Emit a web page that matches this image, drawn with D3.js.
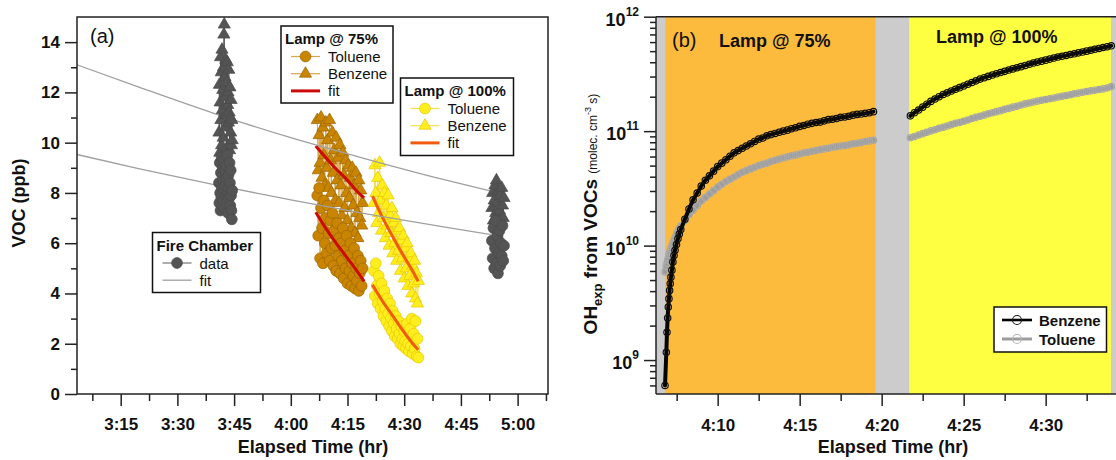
<!DOCTYPE html>
<html><head><meta charset="utf-8">
<script src="https://cdn.jsdelivr.net/npm/d3@7"></script>
<style>body{margin:0;background:#fff;} text{font-family:"Liberation Sans",Arial,sans-serif;fill:#111;}</style>
</head><body><svg id="chart" width="1116" height="460"></svg>
<script>
// ---------------- DATA : panel (a) ----------------
// time in minutes of elapsed time (e.g. 245 = 4:05)
const fire1Time = [221.0,221.1,221.2,221.3,221.4,221.5,221.6,221.7,221.8,221.9,222.0,222.1,222.2,222.3,222.4,222.5,222.6,222.7,222.8,222.9,223.0,223.1,223.2,223.3,223.4,223.5,223.6,223.7,223.8,223.9,224.0,224.1,224.2,224.3,224.4,224.5];
const fire1Benzene = [10.4,12.3,9.6,11.6,13.4,10.9,12.8,9.9,13.7,11.3,12.1,10.2,13.0,14.3,14.7,11.8,12.6,10.6,13.3,11.1,12.4,9.8,13.2,11.5,12.0,10.8,12.9,11.2,9.7,12.2,11.0,10.4,11.7,9.9,10.9,10.1];
const fire1Toluene = [8.4,7.6,9.2,8.0,7.3,8.8,7.8,9.4,8.2,7.5,9.0,8.5,7.7,9.3,8.1,7.4,8.9,8.3,7.9,9.1,8.6,7.6,9.5,8.0,7.2,8.7,8.2,7.8,9.2,8.4,7.5,8.9,7.9,7.3,6.95,8.1];
const fire2Time = [293.2,293.4,293.6,293.8,294.0,294.2,294.4,294.6,294.8,295.0,295.2,295.4,295.6,295.8,296.0,296.2,296.4];
const fire2Benzene = [7.4,8.0,6.9,7.7,8.3,7.2,8.5,7.6,6.8,8.1,7.3,7.9,6.9,8.2,7.5,7.0,7.8];
const fire2Toluene = [6.1,5.4,6.6,5.0,5.8,6.9,5.2,6.3,4.8,5.6,6.5,5.1,6.0,5.5,6.7,5.3,5.9];
const fireFitTime = [183.4,200,220,240,260,280,293];
const fireFitBenzene = [13.1,12.2,11.15,10.2,9.35,8.55,8.07];
const fireFitToluene = [9.53,8.96,8.32,7.72,7.17,6.66,6.34];

const lamp75Time = [247.0,247.25,247.5,247.75,248.0,248.25,248.5,248.75,249.0,249.25,249.5,249.75,250.0,250.25,250.5,250.75,251.0,251.25,251.5,251.75,252.0,252.25,252.5,252.75,253.0,253.25,253.5,253.75,254.0,254.25,254.5,254.75,255.0,255.25,255.5,255.75,256.0,256.25,256.5,256.75,257.0,257.25,257.5,257.75,258.0,258.25,258.5,258.75,259.0];
const lamp75Benzene = [10.9,8.9,10.3,9.2,11.0,8.6,10.6,9.5,8.3,10.8,9.0,10.1,8.2,10.9,9.3,8.0,10.4,8.8,9.7,7.7,10.2,8.5,9.4,7.6,9.9,8.3,7.1,9.6,8.7,7.4,9.3,8.0,6.9,9.1,7.8,8.6,6.6,9.0,7.5,8.3,6.4,8.8,7.2,6.2,8.5,7.0,8.1,6.7,7.6];
const lamp75Toluene = [7.9,6.3,8.2,5.4,7.4,6.6,5.2,7.7,6.0,7.0,5.6,7.5,6.4,5.3,6.9,5.8,7.2,5.1,6.5,5.9,4.9,6.8,5.5,6.2,4.8,6.0,5.3,6.6,4.6,5.7,5.0,6.3,4.4,5.5,4.9,6.0,4.3,5.2,4.7,5.8,4.2,5.0,4.5,5.5,4.1,4.8,5.3,4.3,5.0];
const lamp75FitTime = [246.6,249,252,255,257,259.4];
const lamp75FitBenzene = [9.87,9.45,8.95,8.5,8.15,7.8];
const lamp75FitToluene = [7.23,6.65,6.0,5.4,5.0,4.48];

const lamp100Time = [262.0,262.25,262.5,262.75,263.0,263.25,263.5,263.75,264.0,264.25,264.5,264.75,265.0,265.25,265.5,265.75,266.0,266.25,266.5,266.75,267.0,267.25,267.5,267.75,268.0,268.25,268.5,268.75,269.0,269.25,269.5,269.75,270.0,270.25,270.5,270.75,271.0,271.25,271.5,271.75,272.0,272.25,272.5,272.75,273.0,273.25,273.5,273.75];
const lamp100Benzene = [7.6,9.1,8.0,6.8,8.6,7.2,9.2,7.7,6.5,8.3,7.0,8.0,6.2,7.5,6.7,7.9,5.9,7.1,6.4,7.4,5.6,6.8,6.0,7.0,5.3,6.5,5.7,6.6,4.9,6.1,5.4,6.3,4.6,5.8,5.0,6.0,4.3,5.4,4.7,5.6,4.0,5.1,4.4,5.3,3.8,4.8,3.6,4.5];
const lamp100Toluene = [4.9,3.9,5.2,4.3,3.6,4.7,4.0,3.4,4.4,3.7,3.1,4.1,3.4,2.9,3.8,3.2,2.7,3.6,3.0,2.5,3.3,2.8,2.3,3.1,2.6,2.2,2.9,2.4,2.0,2.7,2.2,1.9,2.5,2.1,1.8,2.8,2.0,1.7,2.6,1.9,3.0,1.6,2.4,1.8,2.9,1.5,2.2,1.45];
const lamp100FitTime = [261.6,264,267,270,272,273.7];
const lamp100FitBenzene = [7.87,7.1,6.25,5.45,4.95,4.48];
const lamp100FitToluene = [4.35,3.75,3.1,2.45,2.05,1.76];

const xTicksA = [195,210,225,240,255,270,285,300];
const xTickLabelsA = ["3:15","3:30","3:45","4:00","4:15","4:30","4:45","5:00"];
const xMinorA = [187.5,202.5,217.5,232.5,247.5,262.5,277.5,292.5,307.5];
const yTicksA = [0,2,4,6,8,10,12,14];
const yTickLabelsA = ["0","2","4","6","8","10","12","14"];
const yMinorA = [1,3,5,7,9,11,13];

// ---------------- DATA : panel (b) ----------------
const ohTime75 = [246.79,246.87,246.91,246.95,246.99,247.03,247.07,247.11,247.15,247.21,247.27,247.34,247.40,247.49,247.58,247.66,247.75,248.00,248.25,248.50,248.75,249.00,249.25,249.50,249.75,250.00,250.25,250.50,250.75,251.00,251.25,251.50,251.75,252.00,252.25,252.50,252.75,253.00,253.25,253.50,253.75,254.00,254.25,254.50,254.75,255.00,255.25,255.50,255.75,256.00,256.25,256.50,256.75,257.00,257.25,257.50,257.75,258.00,258.25,258.50,258.75,259.00,259.25,259.50];
const ohBenzene75 = [6.0e8,1.17e9,1.75e9,2.33e9,2.9e9,3.44e9,4.06e9,4.65e9,5.3e9,6.1e9,7.2e9,8.2e9,9.1e9,1.02e10,1.15e10,1.26e10,
  1.38e10,1.70e10,2.09e10,2.51e10,2.88e10,3.31e10,3.72e10,4.07e10,4.47e10,4.90e10,5.25e10,5.62e10,6.03e10,6.46e10,6.76e10,7.08e10,7.41e10,7.76e10,8.13e10,8.51e10,8.71e10,9.12e10,9.33e10,9.55e10,9.77e10,1.00e11,1.02e11,1.05e11,1.07e11,1.10e11,1.12e11,1.15e11,1.17e11,1.19e11,1.20e11,1.23e11,1.26e11,1.27e11,1.29e11,1.32e11,1.33e11,1.35e11,1.38e11,1.40e11,1.41e11,1.43e11,1.45e11,1.48e11];
const ohToluene75 = [5.89e9,6.61e9,7.0e9,7.41e9,7.76e9,8.32e9,8.71e9,9.02e9,9.44e9,1.0e10,1.06e10,1.12e10,1.17e10,1.26e10,1.35e10,1.41e10,
  1.48e10,1.66e10,1.86e10,2.04e10,2.24e10,2.45e10,2.63e10,2.82e10,3.02e10,3.24e10,3.43e10,3.63e10,3.80e10,3.98e10,4.17e10,4.37e10,4.52e10,4.68e10,4.84e10,5.01e10,5.13e10,5.25e10,5.43e10,5.56e10,5.69e10,5.82e10,5.96e10,6.10e10,6.17e10,6.31e10,6.46e10,6.53e10,6.68e10,6.76e10,6.92e10,7.00e10,7.08e10,7.24e10,7.33e10,7.41e10,7.50e10,7.59e10,7.76e10,7.85e10,7.94e10,8.13e10,8.22e10,8.32e10];
const ohTime100 = [261.75,262.00,262.25,262.50,262.75,263.00,263.25,263.50,263.75,264.00,264.25,264.50,264.75,265.00,265.25,265.50,265.75,266.00,266.25,266.50,266.75,267.00,267.25,267.50,267.75,268.00,268.25,268.50,268.75,269.00,269.25,269.50,269.75,270.00,270.25,270.50,270.75,271.00,271.25,271.50,271.75,272.00,272.25,272.50,272.75,273.00,273.25,273.50,273.75,274.00];
const ohBenzene100 = [1.36e11,1.45e11,1.53e11,1.62e11,1.72e11,1.82e11,1.91e11,2.00e11,2.09e11,2.16e11,2.24e11,2.32e11,2.40e11,2.48e11,2.57e11,2.66e11,2.75e11,2.85e11,2.93e11,3.01e11,3.09e11,3.17e11,3.25e11,3.33e11,3.42e11,3.50e11,3.58e11,3.66e11,3.75e11,3.84e11,3.94e11,4.01e11,4.09e11,4.17e11,4.26e11,4.35e11,4.44e11,4.51e11,4.58e11,4.67e11,4.74e11,4.83e11,4.91e11,5.00e11,5.09e11,5.19e11,5.28e11,5.38e11,5.47e11,5.57e11];
const ohToluene100 = [8.75e10,8.99e10,9.25e10,9.51e10,9.77e10,1.005e11,1.03e11,1.06e11,1.08e11,1.11e11,1.14e11,1.17e11,1.19e11,1.22e11,1.25e11,1.29e11,1.32e11,1.35e11,1.38e11,1.42e11,1.45e11,1.48e11,1.51e11,1.55e11,1.58e11,1.62e11,1.65e11,1.69e11,1.73e11,1.76e11,1.80e11,1.83e11,1.86e11,1.89e11,1.92e11,1.95e11,1.99e11,2.02e11,2.05e11,2.08e11,2.12e11,2.15e11,2.19e11,2.22e11,2.25e11,2.28e11,2.31e11,2.34e11,2.38e11,2.45e11];
const lampPhaseStart = [246.80, 261.68];
const lampPhaseEnd = [259.63, 273.98];
const lampPhaseLabels = ["Lamp @ 75%", "Lamp @ 100%"];

const xTicksB = [250,255,260,265,270];
const xTickLabelsB = ["4:10","4:15","4:20","4:25","4:30"];
const xMinorB = [247.5,252.5,257.5,262.5,267.5,272.5];
const yTicksB = [1e9,1e10,1e11,1e12];
const yTickExpB = ["9","10","11","12"];

// ---------------- DRAWING ----------------
const svg = d3.select("#chart");
svg.append("rect").attr("width",1116).attr("height",460).attr("fill","#fff");
const zip = (t, v) => t.map((d,i)=>[d, v[i]]);

// ===== Panel A =====
const xA = d3.scaleLinear().domain([183.44, 308.04]).range([77, 548]);
const yA = d3.scaleLinear().domain([0, 15]).range([394, 17]);
const gA = svg.append("g");
svg.append("clipPath").attr("id","clipA").append("rect")
  .attr("x",xA.range()[0]).attr("y",yA.range()[1]).attr("width",xA.range()[1]-xA.range()[0]).attr("height",yA.range()[0]-yA.range()[1]);
const plotA = gA.append("g").attr("clip-path","url(#clipA)");
const lineA = d3.line().x(d=>xA(d[0])).y(d=>yA(d[1]));
const lineAcurve = d3.line().x(d=>xA(d[0])).y(d=>yA(d[1])).curve(d3.curveMonotoneX);
const triPath = d3.symbol().type(d3.symbolTriangle).size(64)();
const cirR = 5.4;

function scatter(g, data, shape, fill, stroke, lineColor) {
  g.append("path").datum(data).attr("d", lineA).attr("fill","none").attr("stroke",lineColor).attr("stroke-width",1);
  const pts = g.append("g");
  data.forEach(d => {
    if (shape === "tri") {
      pts.append("path").attr("d", triPath).attr("transform",`translate(${xA(d[0])},${yA(d[1])})`)
        .attr("fill",fill).attr("stroke",stroke).attr("stroke-width",0.7);
    } else {
      pts.append("circle").attr("cx",xA(d[0])).attr("cy",yA(d[1])).attr("r",cirR)
        .attr("fill",fill).attr("stroke",stroke).attr("stroke-width",0.7);
    }
  });
}
const C75 = {fill:"#c98500", stroke:"#9b6500", line:"#d9a54a"};
const C100 = {fill:"#ffee1e", stroke:"#e5c700", line:"#f7e04a"};
const CF = {fill:"#545454", stroke:"#4a4a4a", line:"#555"};

scatter(plotA, zip(lamp75Time, lamp75Benzene), "tri", C75.fill, C75.stroke, C75.line);
scatter(plotA, zip(lamp75Time, lamp75Toluene), "cir", C75.fill, C75.stroke, C75.line);
scatter(plotA, zip(lamp100Time, lamp100Benzene), "tri", C100.fill, C100.stroke, C100.line);
scatter(plotA, zip(lamp100Time, lamp100Toluene), "cir", C100.fill, C100.stroke, C100.line);
[[lamp75FitTime,lamp75FitBenzene,"#cc0a0a"],[lamp75FitTime,lamp75FitToluene,"#cc0a0a"],
 [lamp100FitTime,lamp100FitBenzene,"#f25a10"],[lamp100FitTime,lamp100FitToluene,"#f25a10"]].forEach(([t,v,c])=>{
  plotA.append("path").datum(zip(t,v)).attr("d",lineAcurve).attr("fill","none").attr("stroke",c).attr("stroke-width",3);
});
[fireFitBenzene, fireFitToluene].forEach(v=>{
  plotA.append("path").datum(zip(fireFitTime,v)).attr("d",lineAcurve).attr("fill","none").attr("stroke","#a0a0a0").attr("stroke-width",1.3);
});
scatter(plotA, zip(fire1Time, fire1Benzene), "tri", CF.fill, CF.stroke, CF.line);
scatter(plotA, zip(fire1Time, fire1Toluene), "cir", CF.fill, CF.stroke, CF.line);
scatter(plotA, zip(fire2Time, fire2Benzene), "tri", CF.fill, CF.stroke, CF.line);
scatter(plotA, zip(fire2Time, fire2Toluene), "cir", CF.fill, CF.stroke, CF.line);

// frame + axes A
gA.append("rect").attr("x",xA.range()[0]).attr("y",yA.range()[1]).attr("width",xA.range()[1]-xA.range()[0])
  .attr("height",yA.range()[0]-yA.range()[1]).attr("fill","none").attr("stroke","#222").attr("stroke-width",1.5);

function styleAxis(sel, fs) {
  sel.select(".domain").remove();
  sel.selectAll(".tick line").attr("stroke","#222").attr("stroke-width",1.5);
  sel.selectAll(".tick text").attr("font-size",fs).attr("font-weight","bold").attr("fill","#111")
    .style("font-family",'"Liberation Sans",Arial,sans-serif');
}
gA.append("g").attr("transform",`translate(0,${yA.range()[0]})`)
  .call(d3.axisBottom(xA).tickValues(xTicksA).tickSize(12).tickPadding(12).tickFormat((d,i)=>xTickLabelsA[i]))
  .call(s=>styleAxis(s,17));
gA.append("g").attr("transform",`translate(0,${yA.range()[0]})`)
  .call(d3.axisBottom(xA).tickValues(xMinorA).tickSize(7).tickFormat(""))
  .call(s=>styleAxis(s,17));
gA.append("g").attr("transform",`translate(${xA.range()[0]},0)`)
  .call(d3.axisLeft(yA).tickValues(yTicksA).tickSize(12).tickPadding(5).tickFormat((d,i)=>yTickLabelsA[i]))
  .call(s=>styleAxis(s,17));
gA.append("g").attr("transform",`translate(${xA.range()[0]},0)`)
  .call(d3.axisLeft(yA).tickValues(yMinorA).tickSize(6).tickFormat(""))
  .call(s=>styleAxis(s,17));

gA.append("text").attr("transform","translate(25,203) rotate(-90)").attr("text-anchor","middle")
  .attr("font-size",18).attr("font-weight","bold").text("VOC (ppb)");
gA.append("text").attr("x",313).attr("y",453).attr("text-anchor","middle")
  .attr("font-size",18).attr("font-weight","bold").text("Elapsed Time (hr)");
gA.append("text").attr("x",90).attr("y",43).attr("font-size",20).text("(a)");

// legends A
function legendBox(g, x0, y0, w, h, title, items) {
  g.append("rect").attr("x",x0).attr("y",y0).attr("width",w).attr("height",h)
    .attr("fill","#fff").attr("stroke","#111").attr("stroke-width",1.5);
  g.append("text").attr("x",x0+4).attr("y",y0+18).attr("font-size",15).attr("font-weight","bold").text(title);
  items.forEach((it,i)=>{
    const yy = y0+30.5+i*17.2;
    g.append("line").attr("x1",x0+10).attr("x2",x0+39).attr("y1",yy).attr("y2",yy)
      .attr("stroke",it.line).attr("stroke-width",it.lw||1.2);
    const mx = x0+24.5;
    if (it.shape==="tri") g.append("path").attr("d",triPath).attr("transform",`translate(${mx},${yy})`)
      .attr("fill",it.fill).attr("stroke",it.stroke).attr("stroke-width",0.7);
    if (it.shape==="cir") g.append("circle").attr("cx",mx).attr("cy",yy).attr("r",cirR)
      .attr("fill",it.fill).attr("stroke",it.stroke).attr("stroke-width",0.7);
    g.append("text").attr("x",x0+47).attr("y",yy+5.5).attr("font-size",15).text(it.label);
  });
}
legendBox(gA, 281, 26, 112, 77, "Lamp @ 75%", [
  {shape:"cir",fill:C75.fill,stroke:C75.stroke,line:C75.line,label:"Toluene"},
  {shape:"tri",fill:C75.fill,stroke:C75.stroke,line:C75.line,label:"Benzene"},
  {shape:null,line:"#cc0a0a",lw:3,label:"fit"}]);
legendBox(gA, 400.5, 78, 113, 77.5, "Lamp @ 100%", [
  {shape:"cir",fill:C100.fill,stroke:C100.stroke,line:C100.line,label:"Toluene"},
  {shape:"tri",fill:C100.fill,stroke:C100.stroke,line:C100.line,label:"Benzene"},
  {shape:null,line:"#f25a10",lw:3,label:"fit"}]);
legendBox(gA, 152.5, 232.5, 108, 60, "Fire Chamber", [
  {shape:"cir",fill:CF.fill,stroke:CF.stroke,line:"#777",label:"data"},
  {shape:null,line:"#a0a0a0",lw:1.3,label:"fit"}]);

// ===== Panel B =====
const xB = d3.scaleLinear().domain([246.24, 274.35]).range([656, 1117]);
const yB = d3.scaleLog().domain([5.05e8, 1e12]).range([394, 16.7]);
const gB = svg.append("g");
svg.append("clipPath").attr("id","clipB").append("rect")
  .attr("x",xB.range()[0]).attr("y",yB.range()[1]).attr("width",xB.range()[1]-xB.range()[0]).attr("height",yB.range()[0]-yB.range()[1]);
const plotB = gB.append("g").attr("clip-path","url(#clipB)");
plotB.append("rect").attr("x",xB.range()[0]).attr("y",yB.range()[1]).attr("width",xB.range()[1]-xB.range()[0])
  .attr("height",yB.range()[0]-yB.range()[1]).attr("fill","#cccccc");
const phaseColors = ["#fdbb3e","#ffff42"];
lampPhaseStart.forEach((s,i)=>{
  plotB.append("rect").attr("x",xB(s)).attr("y",yB.range()[1]).attr("width",xB(lampPhaseEnd[i])-xB(s))
    .attr("height",yB.range()[0]-yB.range()[1]).attr("fill",phaseColors[i]);
});
const lineB = d3.line().x(d=>xB(d[0])).y(d=>yB(d[1]));
function ohSeries(data, lineColor, circColor, lw) {
  plotB.append("path").datum(data).attr("d",lineB).attr("fill","none").attr("stroke",lineColor)
    .attr("stroke-width",lw).attr("stroke-linecap","round");
  plotB.append("g").selectAll("circle").data(data).join("circle")
    .attr("cx",d=>xB(d[0])).attr("cy",d=>yB(d[1])).attr("r",3.2)
    .attr("fill","none").attr("stroke",circColor).attr("stroke-width",1.2);
}
ohSeries(zip(ohTime75, ohToluene75), "#9c9c9c", "#a8a8a8", 5);
ohSeries(zip(ohTime100, ohToluene100), "#9c9c9c", "#a8a8a8", 5);
ohSeries(zip(ohTime75, ohBenzene75), "#050505", "#111", 4);
ohSeries(zip(ohTime100, ohBenzene100), "#050505", "#111", 4);

// axes B
gB.append("line").attr("x1",xB.range()[0]).attr("x2",xB.range()[1]).attr("y1",yB.range()[1]).attr("y2",yB.range()[1]).attr("stroke","#222").attr("stroke-width",1.5);
gB.append("line").attr("x1",xB.range()[0]).attr("x2",xB.range()[1]).attr("y1",yB.range()[0]).attr("y2",yB.range()[0]).attr("stroke","#222").attr("stroke-width",1.5);
gB.append("line").attr("x1",xB.range()[0]).attr("x2",xB.range()[0]).attr("y1",yB.range()[1]).attr("y2",yB.range()[0]).attr("stroke","#222").attr("stroke-width",1.5);
gB.append("g").attr("transform",`translate(0,${yB.range()[0]})`)
  .call(d3.axisBottom(xB).tickValues(xTicksB).tickSize(12).tickPadding(13).tickFormat((d,i)=>xTickLabelsB[i]))
  .call(s=>styleAxis(s,17));
gB.append("g").attr("transform",`translate(0,${yB.range()[0]})`)
  .call(d3.axisBottom(xB).tickValues(xMinorB).tickSize(7).tickFormat(""))
  .call(s=>styleAxis(s,17));
const yMinorB = [];
for (let k=8;k<=11;k++) for (let m=2;m<=9;m++) { const v=m*Math.pow(10,k); if (v>=yB.domain()[0] && v<=yB.domain()[1]) yMinorB.push(v); }
gB.append("g").attr("transform",`translate(${xB.range()[0]},0)`)
  .call(d3.axisLeft(yB).tickValues(yTicksB).tickSize(12).tickFormat(""))
  .call(s=>styleAxis(s,17));
gB.append("g").attr("transform",`translate(${xB.range()[0]},0)`)
  .call(d3.axisLeft(yB).tickValues(yMinorB).tickSize(6).tickFormat(""))
  .call(s=>styleAxis(s,17));
yTicksB.forEach((v,i)=>{
  const t = gB.append("text").attr("x",639).attr("y",yB(v)+9).attr("text-anchor","end")
    .attr("font-weight","bold").attr("font-size",18);
  t.append("tspan").text("10");
  t.append("tspan").attr("dy",-10).attr("font-size",12).text(yTickExpB[i]);
});
const yt = gB.append("text").attr("transform","translate(597,214) rotate(-90)").attr("text-anchor","middle").attr("font-weight","bold");
yt.append("tspan").attr("font-size",19).text("OH");
yt.append("tspan").attr("font-size",13).attr("dy",5).text("exp");
yt.append("tspan").attr("font-size",19).attr("dy",-5).text(" from VOCs ");
yt.append("tspan").attr("font-size",12).attr("font-weight","normal").text("(molec. cm");
yt.append("tspan").attr("font-size",9).attr("font-weight","normal").attr("dy",-6).text("-3");
yt.append("tspan").attr("font-size",12).attr("font-weight","normal").attr("dy",6).text(" s)");
gB.append("text").attr("x",893).attr("y",453).attr("text-anchor","middle")
  .attr("font-size",18).attr("font-weight","bold").text("Elapsed Time (hr)");
gB.append("text").attr("x",672).attr("y",47).attr("font-size",20).text("(b)");
gB.append("text").attr("x",719).attr("y",47).attr("font-size",18).attr("font-weight","bold").text(lampPhaseLabels[0]);
gB.append("text").attr("x",936).attr("y",43).attr("font-size",18).attr("font-weight","bold").text(lampPhaseLabels[1]);

// legend B
const lgB = gB.append("g");
lgB.append("rect").attr("x",994).attr("y",307).attr("width",112.5).attr("height",45).attr("fill","#fff").attr("stroke","#111").attr("stroke-width",1.5);
[["Benzene","#000","#1a1a1a",2.6],["Toluene","#9c9c9c","#b5b5b5",3]].forEach(([lab,lc,cc,lw],i)=>{
  const yy = 320+i*19;
  lgB.append("line").attr("x1",1002).attr("x2",1032).attr("y1",yy).attr("y2",yy).attr("stroke",lc).attr("stroke-width",lw);
  lgB.append("circle").attr("cx",1017).attr("cy",yy).attr("r",4.5).attr("fill","none").attr("stroke",cc).attr("stroke-width",1.1);
  lgB.append("text").attr("x",1039).attr("y",yy+6).attr("font-size",15).attr("font-weight","bold").text(lab);
});
</script></body></html>
